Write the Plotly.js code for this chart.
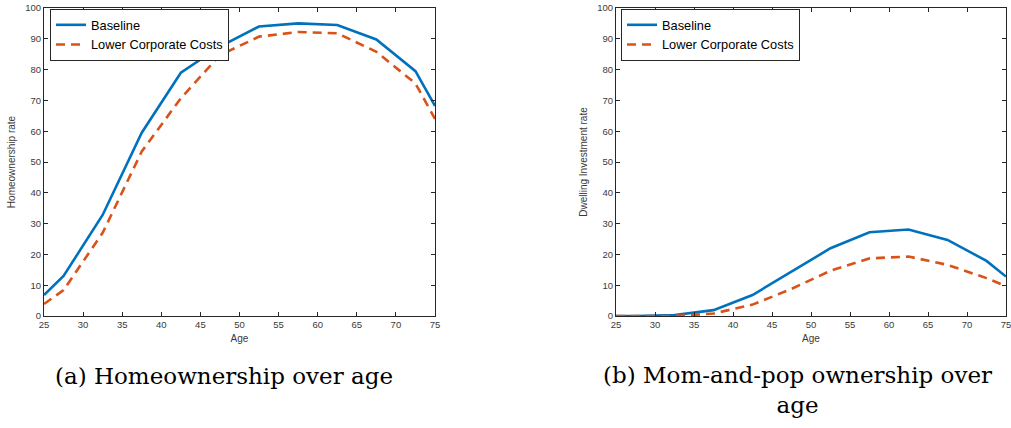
<!DOCTYPE html>
<html>
<head>
<meta charset="utf-8">
<script src="https://cdn.plot.ly/plotly-3.0.1.min.js"></script>
<style>html,body{margin:0;padding:0;background:#fff;}#chart{width:1011px;height:428px;}</style>
</head>
<body>
<div id="chart"></div>
<script>
// Age grid (x values)
const ages = [25, 27.5, 32.5, 37.5, 42.5, 47.5, 52.5, 57.5, 62.5, 67.5, 72.5, 75];
// Panel (a): Homeownership rate
const homeBaseline = [6.8, 13, 32.8, 59.5, 79, 87.5, 94, 95, 94.5, 89.8, 79.5, 68.2];
const homeLowerCorp = [3.9, 8.4, 27, 53.4, 70.7, 84.7, 90.7, 92.2, 91.8, 85.8, 75.5, 64];
// Panel (b): Dwelling investment rate (mom-and-pop)
const dwellBaseline = [0, 0, 0.3, 1.9, 6.8, 14.3, 22, 27.2, 28.1, 24.7, 17.9, 12.8];
const dwellLowerCorp = [0, 0, 0, 0.8, 3.7, 8.8, 14.7, 18.7, 19.3, 16.6, 12.3, 9.7];
// Labels
const seriesNames = ["Baseline", "Lower Corporate Costs"];
const xTitle = "Age";
const yTitles = ["Homeownership rate", "Dwelling Investment rate"];
const captions = ["(a) Homeownership over age", "(b) Mom-and-pop ownership over<br>age"];

const blue = "#0072BD", orange = "#D95319";
const dashStyle = "9px,6px";

const traces = [
  {x: ages, y: homeBaseline, name: seriesNames[0], mode: "lines", line: {color: blue, width: 2.6}, xaxis: "x", yaxis: "y", legend: "legend"},
  {x: ages, y: homeLowerCorp, name: seriesNames[1], mode: "lines", line: {color: orange, width: 2.6, dash: dashStyle}, xaxis: "x", yaxis: "y", legend: "legend"},
  {x: ages, y: dwellBaseline, name: seriesNames[0], mode: "lines", line: {color: blue, width: 2.6}, xaxis: "x2", yaxis: "y2", legend: "legend2"},
  {x: ages, y: dwellLowerCorp, name: seriesNames[1], mode: "lines", line: {color: orange, width: 2.6, dash: dashStyle}, xaxis: "x2", yaxis: "y2", legend: "legend2"}
];

const W = 1011, H = 428;
const yTop = 1 - 8 / H, yBot = 1 - 316 / H;
const tickFont = {family: "Liberation Sans, Arial, sans-serif", size: 9.5, color: "#3a3a3a"};

function xAxis(domain, anchor) {
  return {
    domain: domain, anchor: anchor, range: [25, 75], tickvals: [25,30,35,40,45,50,55,60,65,70,75],
    ticks: "inside", ticklen: 4, tickcolor: "#262626", tickwidth: 1,
    showline: true, linecolor: "#262626", linewidth: 1, mirror: "allticks",
    showgrid: false, zeroline: false, tickfont: tickFont, ticklabeloverflow: "allow",
    title: {text: xTitle, font: {family: "Liberation Sans, Arial, sans-serif", size: 10, color: "#3a3a3a"}, standoff: 5},
    fixedrange: true
  };
}
function yAxis(anchor, title) {
  return {
    domain: [yBot, yTop], anchor: anchor, range: [0, 100], tickvals: [0,10,20,30,40,50,60,70,80,90,100],
    ticks: "inside", ticklen: 4, tickcolor: "#262626", tickwidth: 1,
    showline: true, linecolor: "#262626", linewidth: 1, mirror: "allticks",
    showgrid: false, zeroline: false, tickfont: tickFont, ticklabeloverflow: "allow",
    title: {text: title, font: {family: "Liberation Sans, Arial, sans-serif", size: 10, color: "#3a3a3a"}, standoff: 7},
    fixedrange: true
  };
}

const legendFont = {family: "Liberation Sans, Arial, sans-serif", size: 12.8, color: "#000"};
const layout = {
  width: W, height: H,
  margin: {l: 0, r: 0, t: 0, b: 0},
  paper_bgcolor: "#fff", plot_bgcolor: "#fff",
  showlegend: true,
  xaxis: xAxis([44 / W, 435 / W], "y"),
  yaxis: yAxis("x", yTitles[0]),
  xaxis2: xAxis([616 / W, 1006 / W], "y2"),
  yaxis2: yAxis("x2", yTitles[1]),
  legend: {x: 50 / W, y: 1 - 9 / H, xanchor: "left", yanchor: "top", bordercolor: "#262626", borderwidth: 1,
           bgcolor: "#fff", font: legendFont, itemwidth: 30, tracegroupgap: 0},
  legend2: {x: 621 / W, y: 1 - 9 / H, xanchor: "left", yanchor: "top", bordercolor: "#262626", borderwidth: 1,
            bgcolor: "#fff", font: legendFont, itemwidth: 30, tracegroupgap: 0},
  annotations: [
    {text: captions[0], xref: "paper", yref: "paper", x: 224 / W, y: 1 - 376 / H, xanchor: "center", yanchor: "middle",
     showarrow: false, font: {family: "DejaVu Serif, serif", size: 23, color: "#000"}},
    {text: captions[1], xref: "paper", yref: "paper", x: 797 / W, y: 1 - 390 / H, xanchor: "center", yanchor: "middle",
     showarrow: false, font: {family: "DejaVu Serif, serif", size: 23, color: "#000"}}
  ]
};

Plotly.newPlot("chart", traces, layout, {displayModeBar: false, staticPlot: true});
</script>
</body>
</html>
